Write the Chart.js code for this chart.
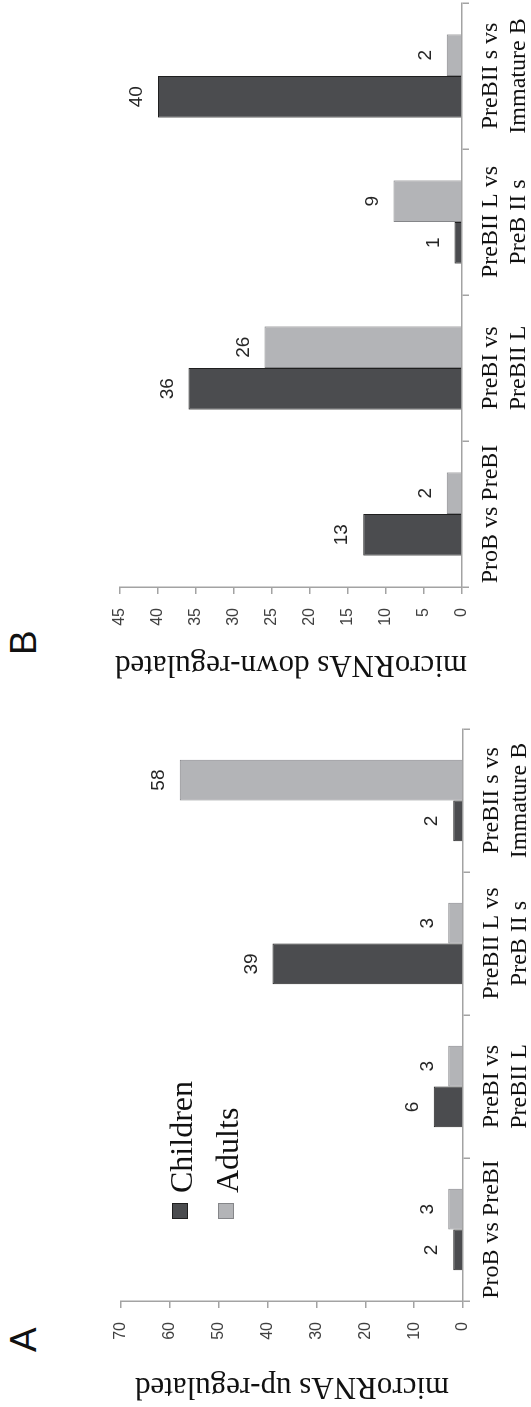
<!DOCTYPE html>
<html>
<head>
<meta charset="utf-8">
<script src="https://cdn.jsdelivr.net/npm/chart.js@4.4.1/dist/chart.umd.min.js"></script>
<style>
  html, body { margin: 0; padding: 0; background: #fff; }
  body { width: 531px; height: 1407px; overflow: hidden; position: relative; }
  /* the figure is laid out the original way round (1407 x 531) and turned a quarter left */
  #figure {
    position: absolute; left: 0; top: 0;
    width: 1407px; height: 531px;
    transform-origin: 0 0;
    transform: translate(0, 1407px) rotate(-90deg);
    background: #fff;
  }
  #figure canvas { position: absolute; top: 0; }
  .panel-letter {
    position: absolute; top: 5px;
    font: 37px/1 "Liberation Sans", Arial, sans-serif;
    color: #111;
  }
</style>
</head>
<body>
<div id="figure">
  <div class="panel-letter" style="left:55px">A</div>
  <div class="panel-letter" style="left:752px">B</div>
  <canvas id="chartUp" width="700" height="531" style="left:0;width:700px;height:531px"></canvas>
  <canvas id="chartDown" width="693" height="531" style="left:714px;width:693px;height:531px"></canvas>
</div>
<script>
// ─── Data ────────────────────────────────────────────────────────────────────

const CATEGORIES = [
  ['ProB vs PreBI'],
  ['PreBI vs', 'PreBII L'],
  ['PreBII L vs', 'PreB II s'],
  ['PreBII s vs', 'Immature B'],
];
const SERIES = ['Children', 'Adults'];

const UP_CHILDREN = [2, 6, 39, 2];
const UP_ADULTS = [3, 3, 3, 58];
const UP_MAX = 70;
const UP_STEP = 10;

const DOWN_CHILDREN = [13, 36, 1, 40];
const DOWN_ADULTS = [2, 26, 9, 2];
const DOWN_MAX = 45;
const DOWN_STEP = 5;

// ─── Styles ──────────────────────────────────────────────────────────────────

const SERIF = '"Liberation Serif", "Times New Roman", serif';
const SANS = '"Liberation Sans", Arial, sans-serif';
const AXIS_COLOR = '#a3a3a3';
const FILL = ['#4b4c4f', '#b3b4b7'];
const EDGE = ['#1f1f1f', '#858689'];

// ─── Plugins ─────────────────────────────────────────────────────────────────

// value written above each bar
const barValueLabels = {
  id: 'barValueLabels',
  afterDatasetsDraw(chart) {
    const { ctx } = chart;
    ctx.save();
    ctx.font = '19px ' + SANS;
    ctx.fillStyle = '#262626';
    ctx.textAlign = 'center';
    ctx.textBaseline = 'middle';
    chart.data.datasets.forEach((ds, i) => {
      chart.getDatasetMeta(i).data.forEach((bar, j) => {
        ctx.fillText(String(ds.data[j]), bar.x, bar.y - 21);
      });
    });
    ctx.restore();
  }
};

// legend sitting inside the plot of panel A
const insideLegend = {
  id: 'insideLegend',
  afterDraw(chart, args, opts) {
    if (!opts.display) return;
    const { ctx, chartArea } = chart;
    const x0 = chartArea.left + 82;
    ctx.save();
    chart.data.datasets.forEach((ds, i) => {
      const cy = chartArea.top + 59 + i * 46;
      ctx.fillStyle = ds.backgroundColor;
      ctx.fillRect(x0, cy - 8, 16, 16);
      ctx.strokeStyle = ds.borderColor;
      ctx.lineWidth = 1;
      ctx.strokeRect(x0 + 0.5, cy - 7.5, 15, 15);
      ctx.font = '32px ' + SERIF;
      ctx.fillStyle = '#111';
      ctx.textAlign = 'left';
      ctx.textBaseline = 'alphabetic';
      ctx.fillText(ds.label, x0 + 26, cy + 12);
    });
    ctx.restore();
  }
};

// ─── Config ──────────────────────────────────────────────────────────────────

function buildBarConfig({ children, adults, max, step, title, titlePad, padTop, padRight, xHeight, legend }) {
  const dataset = (label, data, k) => ({
    label,
    data,
    backgroundColor: FILL[k],
    borderColor: EDGE[k],
    borderWidth: 1,
    categoryPercentage: 0.57,
    barPercentage: 1,
  });

  return {
    type: 'bar',
    data: {
      labels: CATEGORIES,
      datasets: [dataset(SERIES[0], children, 0), dataset(SERIES[1], adults, 1)]
    },
    options: {
      responsive: false,
      animation: false,
      devicePixelRatio: 1,
      layout: { padding: { top: padTop, right: padRight, left: 0, bottom: 0 } },
      plugins: {
        legend: { display: false },
        tooltip: { enabled: false },
        insideLegend: { display: legend },
      },
      scales: {
        x: {
          offset: true,
          grid: { offset: true, drawOnChartArea: false, drawTicks: true, tickLength: 7, color: AXIS_COLOR, lineWidth: 1.5 },
          border: { display: true, color: AXIS_COLOR, width: 1.5 },
          ticks: {
            color: '#111',
            font: { family: SERIF, size: 24, lineHeight: 1.2 },
            padding: 7,
            maxRotation: 0,
            minRotation: 0,
            autoSkip: false,
          },
          afterFit: s => { s.height = xHeight; }
        },
        y: {
          min: 0,
          max,
          ticks: { stepSize: step, color: '#404040', font: { family: SANS, size: 16 }, padding: 14 },
          grid: { drawOnChartArea: false, drawTicks: true, tickLength: 7, color: AXIS_COLOR, lineWidth: 1.5 },
          border: { display: true, color: AXIS_COLOR, width: 1.5 },
          title: {
            display: true,
            text: title,
            color: '#111',
            font: { family: SERIF, size: 31 },
            padding: { top: titlePad, bottom: 0 },
          },
          afterFit: s => { s.width = 106; }
        }
      }
    },
    plugins: [barValueLabels, insideLegend]
  };
}

// ─── Charts ──────────────────────────────────────────────────────────────────

new Chart(document.getElementById('chartUp').getContext('2d'), buildBarConfig({
  children: UP_CHILDREN, adults: UP_ADULTS, max: UP_MAX, step: UP_STEP,
  title: 'microRNAs up-regulated', titlePad: 2,
  padTop: 121, padRight: 22, xHeight: 68, legend: true,
}));

new Chart(document.getElementById('chartDown').getContext('2d'), buildBarConfig({
  children: DOWN_CHILDREN, adults: DOWN_ADULTS, max: DOWN_MAX, step: DOWN_STEP,
  title: 'microRNAs down-regulated', titlePad: 10,
  padTop: 120, padRight: 3, xHeight: 69, legend: false,
}));
</script>
</body>
</html>
